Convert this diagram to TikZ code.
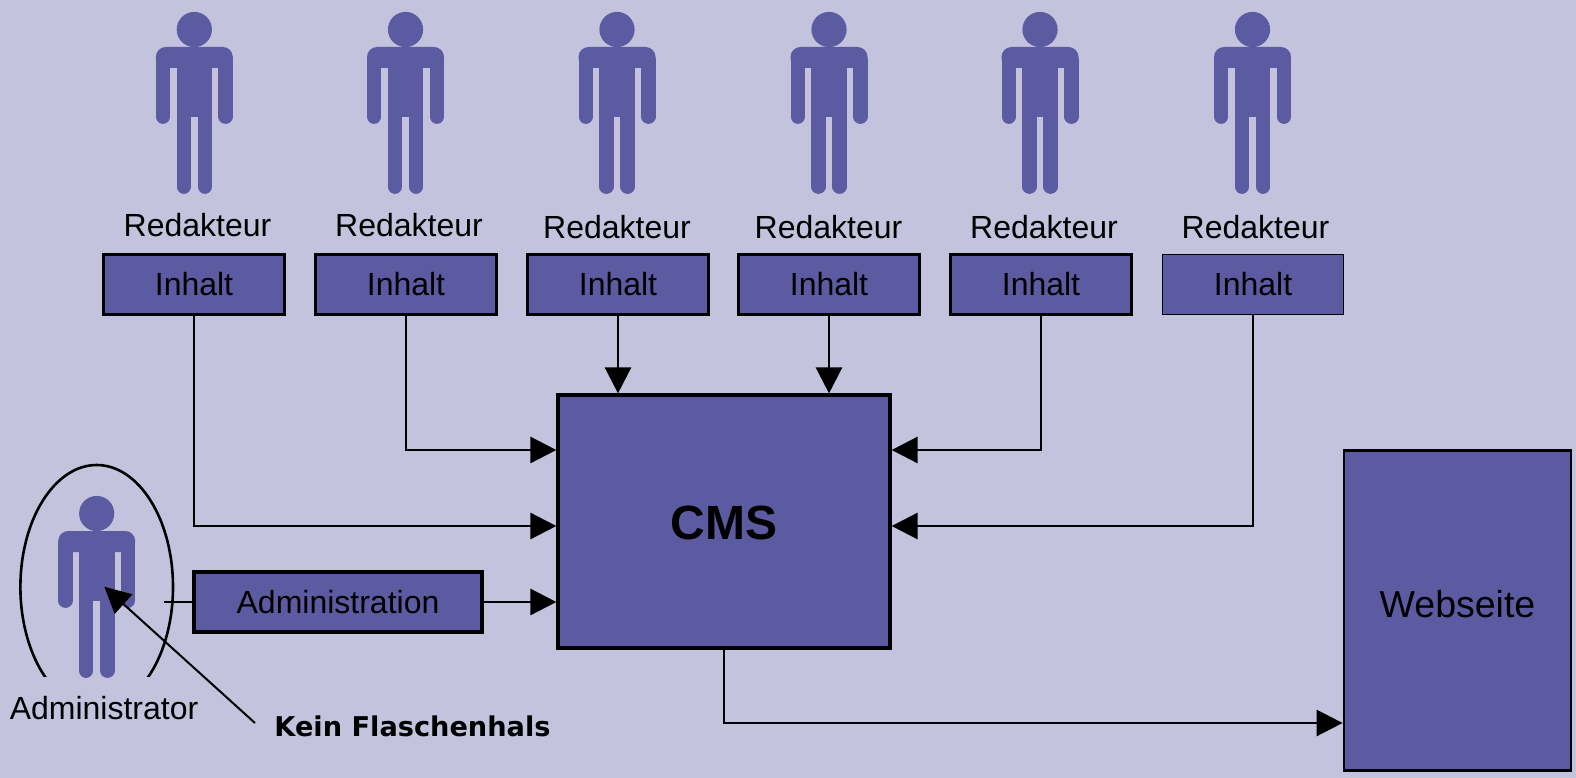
\documentclass[tikz,border=0pt]{standalone}
\usepackage{fontspec}
\setmainfont{Liberation Sans}
\newfontfamily\dejavu{DejaVu Sans}
\usetikzlibrary{arrows.meta}
\definecolor{bgc}{RGB}{195,195,221}
\definecolor{figc}{RGB}{92,90,160}
\tikzset{
  x=1pt,y=-1pt,
  person/.pic={
    \fill[figc] (0,29.5) circle (17.6);
    \fill[figc,rounded corners=10] (-38.5,68) -- (-38.5,47) -- (38.5,47) -- (38.5,68) -- cycle;
    \fill[figc] (-17.8,47) rectangle (17.8,116.7);
    \draw[figc,line width=14.4,line cap=round] (-31.3,60) -- (-31.3,116.7);
    \draw[figc,line width=14.4,line cap=round] (31.3,60) -- (31.3,116.7);
    \draw[figc,line width=14.4,line cap=round] (-10.6,110) -- (-10.6,186.7);
    \draw[figc,line width=14.4,line cap=round] (10.6,110) -- (10.6,186.7);
  },
  bluebox/.style={draw=black,fill=figc,line width=2.8,inner sep=0pt,font=\fontsize{32}{36}\selectfont},
  inhaltbox/.style={bluebox,minimum width=181,minimum height=60},
  lbl/.style={inner sep=0pt,font=\fontsize{32}{36}\selectfont},
  conn/.style={draw=black,line width=2.6},
  arr/.style={conn,-{Triangle[length=26pt,width=26pt]}},
}
\begin{document}
\begin{tikzpicture}
\useasboundingbox (0,0) rectangle (1576,778);
\fill[bgc] (0,0) rectangle (1576,778);
% figures
\foreach \c in {194.3,405.5,617,829,1040,1252.5} \pic at (\c,0) {person};
\pic at (96.7,484) {person};
\begin{scope}
\clip (0,440) rectangle (200,676.7);
\draw[black,line width=2.6] (96.7,587) ellipse [x radius=76.3, y radius=122];
\end{scope}
% labels
\node[lbl] (r1) at (197.5,225) {Redakteur};
\node[lbl] (r2) at (409,225) {Redakteur};
\node[lbl] (r3) at (617,227) {Redakteur};
\node[lbl] (r4) at (828.5,227) {Redakteur};
\node[lbl] (r5) at (1044,227) {Redakteur};
\node[lbl] (r6) at (1255.5,227) {Redakteur};
\node[lbl] (adm) at (104,708) {Administrator};
\node[inner sep=0pt,font=\dejavu\bfseries\fontsize{27.2}{32}\selectfont] (kf) at (412.5,726) {Kein Flaschenhals};
% boxes
\node[inhaltbox] (i1) at (194,284.5) {Inhalt};
\node[inhaltbox] (i2) at (406,284.5) {Inhalt};
\node[inhaltbox] (i3) at (618,284.5) {Inhalt};
\node[inhaltbox] (i4) at (829,284.5) {Inhalt};
\node[inhaltbox] (i5) at (1041,284.5) {Inhalt};
\node[inhaltbox,line width=1.6] (i6) at (1253,284.5) {Inhalt};
\node[bluebox,line width=3.2,minimum width=332,minimum height=253] (cms) at (724,521.5) {};
\node[inner sep=0pt,font=\bfseries\fontsize{48}{54}\selectfont] (cmstxt) at (724,523) {CMS};
\node[bluebox,minimum width=227,minimum height=320] (web) at (1457.5,610.5) {};
\node[inner sep=0pt,font=\fontsize{37.5}{42}\selectfont] (webtxt) at (1457.5,604) {Webseite};
\node[bluebox,line width=3.2,minimum width=288,minimum height=60] (ab) at (338,602) {Administration};
% connector ends
\coordinate (l1) at (cms.west |- 0,450);
\coordinate (l2) at (cms.west |- 0,526);
\coordinate (l3) at (cms.west |- ab);
\coordinate (t3) at (i3 |- cms.north);
\coordinate (t4) at (i4 |- cms.north);
\coordinate (e5) at (cms.east |- 0,450);
\coordinate (e6) at (cms.east |- 0,526);
\coordinate (wl) at (web.west |- 0,723);
\coordinate (as) at (164,602);
\coordinate (kt) at (255,723);
\coordinate (kh) at (104.3,586.7);
% connectors
\draw[arr] (i1.south) |- (l2);
\draw[arr] (i2.south) |- (l1);
\draw[arr] (i3.south) -- (t3);
\draw[arr] (i4.south) -- (t4);
\draw[arr] (i5.south) |- (e5);
\draw[arr] (i6.south) |- (e6);
\draw[arr] (ab.east) -- (l3);
\draw[conn] (as) -- (ab.west);
\draw[arr] (cms.south) |- (wl);
\draw[arr,line width=2] (kt) -- (kh);
\end{tikzpicture}
\end{document}
